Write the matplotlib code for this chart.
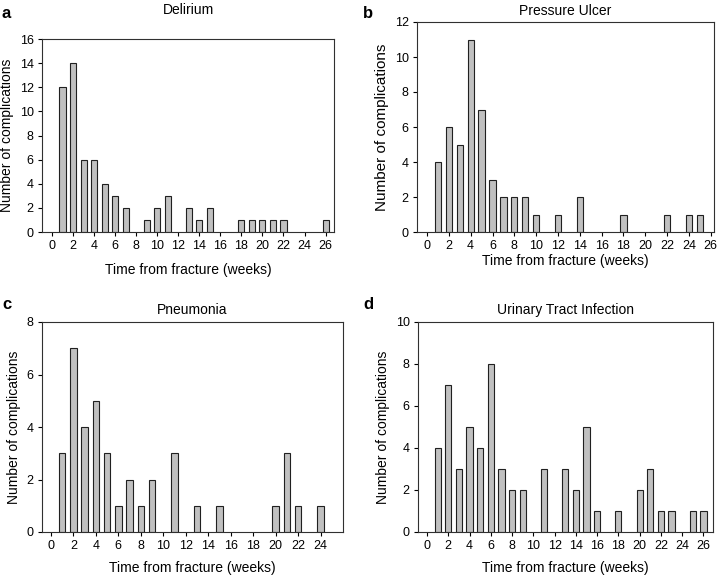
import matplotlib
matplotlib.use("Agg")
import matplotlib.pyplot as plt

plt.rcParams['font.family'] = ['Liberation Sans', 'DejaVu Sans']

# weeks since fracture and number of complications per week
delirium_weeks = [1, 2, 3, 4, 5, 6, 7, 9, 10, 11, 13, 14, 15, 18, 19, 20, 21, 22, 26]
delirium_counts = [12, 14, 6, 6, 4, 3, 2, 1, 2, 3, 2, 1, 2, 1, 1, 1, 1, 1, 1]

ulcer_weeks = [1, 2, 3, 4, 5, 6, 7, 8, 9, 10, 12, 14, 18, 22, 24, 25]
ulcer_counts = [4, 6, 5, 11, 7, 3, 2, 2, 2, 1, 1, 2, 1, 1, 1, 1]

pneu_weeks = [1, 2, 3, 4, 5, 6, 7, 8, 9, 11, 13, 15, 20, 21, 22, 24]
pneu_counts = [3, 7, 4, 5, 3, 1, 2, 1, 2, 3, 1, 1, 1, 3, 1, 1]

uti_weeks = [1, 2, 3, 4, 5, 6, 7, 8, 9, 11, 13, 14, 15, 16, 18, 20, 21, 22, 23, 25, 26]
uti_counts = [4, 7, 3, 5, 4, 8, 3, 2, 2, 3, 3, 2, 5, 1, 1, 2, 3, 1, 1, 1, 1]

W, H = 720, 579
fig = plt.figure(figsize=(W / 100, H / 100), dpi=100)


def make_axes(left, right, top, bottom):
    return fig.add_axes([left / W, (H - bottom) / H, (right - left) / W, (bottom - top) / H])


panels = [
    # (axes box px, weeks, counts, ymax, xticks max, xlim, title, title pad, xlabel pad, ylabel size, letter pos)
    ((42, 334, 39, 232), delirium_weeks, delirium_counts, 16, 26, (-0.95, 26.8),
     'Delirium', 18, 8, 10, 'a', (2, 6)),
    ((417, 714, 22, 232), ulcer_weeks, ulcer_counts, 12, 26, (-0.92, 26.3),
     'Pressure Ulcer', 5, 1, 11, 'b', (363, 6)),
    ((42, 343, 322, 532), pneu_weeks, pneu_counts, 8, 24, (-0.8, 26.0),
     'Pneumonia', 6, 6, 10, 'c', (2, 297)),
    ((418, 713, 322, 532), uti_weeks, uti_counts, 10, 26, (-0.85, 26.9),
     'Urinary Tract Infection', 6, 6, 10, 'd', (363, 297)),
]

for box, weeks, counts, ymax, xmax, xlim, title, pad, xpad, ysize, letter, lpos in panels:
    ax = make_axes(*box)
    ax.bar(weeks, counts, width=0.58, color='#c0c0c0', edgecolor='#202020', linewidth=0.8)
    ax.set_xlim(*xlim)
    ax.set_ylim(0, ymax)
    ax.set_xticks(range(0, xmax + 1, 2))
    ax.set_yticks(range(0, ymax + 1, 2))
    ax.tick_params(direction='out', length=3, width=0.8, labelsize=9, pad=3)
    for s in ax.spines.values():
        s.set_linewidth(0.8)
        s.set_color('#303030')
    ax.set_title(title, fontsize=10, pad=pad)
    ax.set_xlabel('Time from fracture (weeks)', fontsize=10, labelpad=xpad)
    ax.set_ylabel('Number of complications', fontsize=ysize, labelpad=4)
    fig.text(lpos[0] / W, 1 - lpos[1] / H, letter, fontsize=12, fontweight='bold',
             ha='left', va='top')

fig.savefig('out.png', dpi=100)
